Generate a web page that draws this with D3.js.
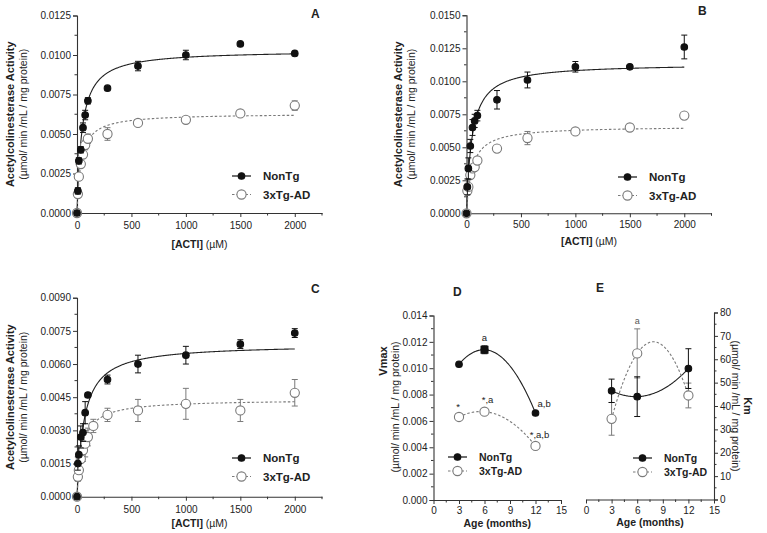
<!DOCTYPE html>
<html><head><meta charset="utf-8">
<script src="https://cdn.jsdelivr.net/npm/d3@7"></script>
<style>
body{margin:0;background:#fff;}
svg{font-family:"Liberation Sans",Arial,sans-serif;}
</style></head><body>
<svg id="c" width="767" height="533"></svg>
<script>
// ---------- DATA ----------
const seriesNames = ["NonTg", "3xTg-AD"];
const concAB = [0, 8, 17, 35, 55, 75, 100, 280, 560, 1000, 1500, 2000];
const concC_non = [0, 8, 17, 35, 55, 75, 100, 280, 560, 1000, 1500, 2000];
const concC_tg = [0, 8, 17, 35, 55, 75, 100, 150, 280, 560, 1000, 1500, 2000];

const A_non = [0, 0.0014, 0.0033, 0.0040, 0.0054, 0.0062, 0.0071, 0.0079, 0.0093, 0.0100, 0.0107, 0.0101];
const A_non_err = [0, 0.0002, 0.0002, 0.0002, 0.0003, 0.0003, 0.0002, 0, 0.0003, 0.0003, 0, 0];
const A_tg = [0, 0.0012, 0.0023, 0.0031, 0.0037, 0.0043, 0.0047, 0.0050, 0.0057, 0.0059, 0.0063, 0.0068];
const A_tg_err = [0, 0.0002, 0.0002, 0.0002, 0.0002, 0.0003, 0.0003, 0.0004, 0.0002, 0.0002, 0.0001, 0.0003];

const B_non = [0, 0.0020, 0.0034, 0.0051, 0.0065, 0.0070, 0.0074, 0.0086, 0.0101, 0.0111, 0.0111, 0.0126];
const B_non_err = [0, 0.0006, 0.0008, 0.0005, 0.0006, 0.0005, 0.0004, 0.0007, 0.0006, 0.0004, 0.0001, 0.0009];
const B_tg = [0, 0.0017, 0.0020, 0.0029, 0.0034, 0.0035, 0.0040, 0.0049, 0.0057, 0.0062, 0.0065, 0.0074];
const B_tg_err = [0, 0.0002, 0.0002, 0.0002, 0.0002, 0.0002, 0.0002, 0.0001, 0.0005, 0.0001, 0.0002, 0.0001];

const C_non = [0, 0.0015, 0.0019, 0.0027, 0.0029, 0.0038, 0.0046, 0.0053, 0.0060, 0.0064, 0.0069, 0.0074];
const C_non_err = [0, 0.0003, 0.0004, 0.0005, 0.0004, 0.0005, 0.0001, 0.0002, 0.0004, 0.0004, 0.0002, 0.0002];
const C_tg = [0, 0.0009, 0.0012, 0.0017, 0.0021, 0.0024, 0.0027, 0.0032, 0.0037, 0.0039, 0.0042, 0.0039, 0.0047];
const C_tg_err = [0, 0.0002, 0.0003, 0.0005, 0.0005, 0.0006, 0.0004, 0.0003, 0.0003, 0.0005, 0.0007, 0.0005, 0.0006];

// Michaelis-Menten fit parameters [Vmax, Km]
const fitA = [[0.0103, 45], [0.0063, 38]];
const fitB = [[0.01135, 50], [0.0066, 50]];
const fitC = [[0.0069, 65], [0.0044, 50]];

const yTicksA = [0, 0.0025, 0.005, 0.0075, 0.01, 0.0125];
const yTicksB = [0, 0.0025, 0.005, 0.0075, 0.01, 0.0125, 0.015];
const yTicksC = [0, 0.0015, 0.003, 0.0045, 0.006, 0.0075, 0.009];
const xTicksConc = [0, 500, 1000, 1500, 2000];

const ages = [3, 6, 12];
const D_non = [0.0103, 0.0114, 0.0066];
const D_non_err = [0.0001, 0.0003, 0.0001];
const D_tg = [0.0063, 0.0067, 0.0041];
const D_tg_err = [0.0001, 0.0001, 0.0001];
const D_non_ann = ["", "a", "a,b"];
const D_tg_ann = ["*", "*,a", "*,a,b"];
const yTicksD = [0, 0.002, 0.004, 0.006, 0.008, 0.010, 0.012, 0.014];

const E_non = [46.5, 44, 56];
const E_non_err = [5, 8.5, 8.5];
const E_tg = [34.5, 62.5, 44.5];
const E_tg_err = [7, 10.5, 5.3];
const E_tg_ann = ["", "a", ""];
const yTicksE = [0, 10, 20, 30, 40, 50, 60, 70, 80];
const xTicksAge = [0, 3, 6, 9, 12, 15];

// ---------- DRAW ----------
const svg = d3.select("#c");
const TXT = "#222", AX = "#333", GREY = "#7a7a7a";

function styleAxis(g){
  g.select(".domain").attr("stroke", AX).attr("stroke-width", 1.1);
  g.selectAll(".tick line").attr("stroke", AX);
  g.selectAll(".tick text").attr("fill", TXT).style("font-size", "10px");
}

function minorTicks(g, scale, vals, orient, len){
  vals.forEach(v=>{
    const p = scale(v);
    if(orient==="left") g.append("line").attr("x1",0).attr("x2",-len).attr("y1",p).attr("y2",p).attr("stroke",AX);
    if(orient==="right") g.append("line").attr("x1",0).attr("x2",len).attr("y1",p).attr("y2",p).attr("stroke",AX);
    if(orient==="bottom") g.append("line").attr("y1",0).attr("y2",len).attr("x1",p).attr("x2",p).attr("stroke",AX);
  });
}

function drawSeries(g, x, y, xs, ys, errs, filled){
  const col = filled ? "#111" : GREY;
  xs.forEach((xv,i)=>{
    const e = errs[i];
    if(e>0){
      const px = x(xv);
      g.append("line").attr("x1",px).attr("x2",px).attr("y1",y(ys[i]-e)).attr("y2",y(ys[i]+e)).attr("stroke",col).attr("stroke-width",1);
      [ys[i]-e, ys[i]+e].forEach(v=>g.append("line").attr("x1",px-3).attr("x2",px+3).attr("y1",y(v)).attr("y2",y(v)).attr("stroke",col).attr("stroke-width",1));
    }
  });
  g.selectAll(null).data(xs.map((xv,i)=>[xv,ys[i]])).join("circle")
    .attr("cx",d=>x(d[0])).attr("cy",d=>y(d[1]))
    .attr("r", filled?3.3:4.6)
    .attr("fill", filled?"#111":"#fff")
    .attr("stroke", filled?"#111":GREY).attr("stroke-width",1.1);
}

function legend(x0, y0, gap, fs){
  const g = svg.append("g");
  seriesNames.forEach((n,i)=>{
    const yy = y0 + i*gap;
    g.append("line").attr("x1",x0).attr("x2",x0+19).attr("y1",yy).attr("y2",yy)
      .attr("stroke", i===0?"#111":GREY).attr("stroke-width",1.2)
      .attr("stroke-dasharray", i===0?null:"2.5,2");
    g.append("circle").attr("cx",x0+9.5).attr("cy",yy).attr("r", i===0?3.3:4.6)
      .attr("fill", i===0?"#111":"#fff").attr("stroke", i===0?"#111":GREY).attr("stroke-width",1.1);
    g.append("text").attr("x",x0+31).attr("y",yy).attr("dy","0.36em")
      .style("font-size",fs+"px").style("font-weight","bold").attr("fill",TXT).text(n);
  });
}

function yTitle(cx, cy, bold, normal, rot, dxGap){
  const g = svg.append("g").attr("transform",`translate(${cx},${cy}) rotate(${rot})`);
  g.append("text").attr("text-anchor","middle").attr("y",0).style("font-size","11px").style("font-weight","bold").attr("fill",TXT).text(bold);
  g.append("text").attr("text-anchor","middle").attr("y",dxGap).style("font-size","10.5px").attr("fill",TXT).text(normal);
}

function concPanel(opt){
  const x = d3.scaleLinear().domain([0,2250]).range([opt.x0, opt.x1]);
  const y = d3.scaleLinear().domain([0,opt.ymax]).range([opt.y0, opt.y1]);
  const g = svg.append("g");
  const ya = g.append("g").attr("transform",`translate(${opt.x0},0)`)
    .call(d3.axisLeft(y).tickValues(opt.yTicks).tickFormat(d3.format(opt.fmt)).tickSize(4).tickPadding(2));
  styleAxis(ya);
  const step = opt.yTicks[1]-opt.yTicks[0];
  minorTicks(ya, y, opt.yTicks.slice(0,-1).map(v=>v+step/2), "left", 2.5);
  const xa = g.append("g").attr("transform",`translate(0,${opt.y0})`)
    .call(d3.axisBottom(x).tickValues(xTicksConc).tickFormat(d3.format("d")).tickSize(4).tickPadding(opt.xpad).tickSizeOuter(0));
  styleAxis(xa);
  minorTicks(xa, x, [250,750,1250,1750,2250], "bottom", 2.5);
  const xs = d3.range(0, 2001, 5);
  opt.fits.forEach((f,i)=>{
    const line = d3.line().x(d=>x(d)).y(d=>y(f[0]*d/(f[1]+d)));
    g.append("path").datum(xs).attr("d",line).attr("fill","none")
      .attr("stroke", i===0?"#222":GREY).attr("stroke-width",1.1)
      .attr("stroke-dasharray", i===0?null:"2.5,2");
  });
  drawSeries(g, x, y, opt.tgX, opt.tg, opt.tgErr, false);
  drawSeries(g, x, y, opt.nonX, opt.non, opt.nonErr, true);
  const t = g.append("text").attr("x",(x(0)+x(2250))/2).attr("y",opt.xtY).attr("text-anchor","middle").style("font-size","10.5px").attr("fill",TXT);
  t.append("tspan").style("font-weight","bold").text("[ACTI]");
  t.append("tspan").text(" (\u00B5M)");
  svg.append("text").attr("x",opt.lx).attr("y",opt.ly).style("font-size","12px").style("font-weight","bold").attr("fill",TXT).text(opt.letter);
  yTitle(opt.tx, (opt.y0+opt.y1)/2, "Acetylcolinesterase Activity", "(\u00B5mol/ min /mL / mg protein)", -90, 13);
  legend(opt.legX, opt.legY, 18.5, 11.5);
}

concPanel({x0:77, x1:322, y0:213, y1:15.5, ymax:0.0125, yTicks:yTicksA, fmt:".4f", xpad:5,
  nonX:concAB, non:A_non, nonErr:A_non_err, tgX:concAB, tg:A_tg, tgErr:A_tg_err, fits:fitA,
  xtY:248, lx:311, ly:18, letter:"A", tx:14, legX:232, legY:176});
concPanel({x0:466.5, x1:711.5, y0:213.3, y1:15.3, ymax:0.015, yTicks:yTicksB, fmt:".4f", xpad:4,
  nonX:concAB, non:B_non, nonErr:B_non_err, tgX:concAB, tg:B_tg, tgErr:B_tg_err, fits:fitB,
  xtY:245, lx:698, ly:15, letter:"B", tx:402, legX:618, legY:177});
concPanel({x0:77, x1:322, y0:496.7, y1:297.7, ymax:0.009, yTicks:yTicksC, fmt:".4f", xpad:5,
  nonX:concC_non, non:C_non, nonErr:C_non_err, tgX:concC_tg, tg:C_tg, tgErr:C_tg_err, fits:fitC,
  xtY:527, lx:311, ly:293, letter:"C", tx:14, legX:232, legY:458});

// quadratic through three points (smooth trend curves of D and E)
function quad(xs, ys){
  return t => {
    let s = 0;
    for(let i=0;i<3;i++){
      let p = ys[i];
      for(let j=0;j<3;j++) if(j!==i) p *= (t - xs[j])/(xs[i]-xs[j]);
      s += p;
    }
    return s;
  };
}

// Panel D
(function(){
  const x = d3.scaleLinear().domain([0,15]).range([433.5, 561]);
  const y = d3.scaleLinear().domain([0,0.014]).range([500, 315.5]);
  const g = svg.append("g");
  const ya = g.append("g").attr("transform","translate(433.5,0)")
    .call(d3.axisLeft(y).tickValues(yTicksD).tickFormat(d3.format(".3f")).tickSize(4).tickPadding(2));
  styleAxis(ya);
  minorTicks(ya, y, yTicksD.slice(0,-1).map(v=>v+0.001), "left", 2.5);
  const xa = g.append("g").attr("transform","translate(0,500)")
    .call(d3.axisBottom(x).tickValues(xTicksAge).tickSize(4).tickPadding(3).tickSizeOuter(0));
  styleAxis(xa);
  minorTicks(xa, x, [1.5,4.5,7.5,10.5,13.5], "bottom", 2.5);
  const ts = d3.range(3, 12.001, 0.1);
  [[D_non,false],[D_tg,true]].forEach(([vals,dash])=>{
    const f = quad(ages, vals);
    g.append("path").datum(ts).attr("d", d3.line().x(d=>x(d)).y(d=>y(f(d))))
      .attr("fill","none").attr("stroke", dash?GREY:"#222").attr("stroke-width",1.1)
      .attr("stroke-dasharray", dash?"2.5,2":null);
  });
  drawSeries(g, x, y, ages, D_tg, D_tg_err, false);
  drawSeries(g, x, y, ages, D_non, D_non_err, true);
  g.append("rect").attr("x",x(6)-4).attr("y",y(D_non[1])-4).attr("width",8).attr("height",8).attr("fill","#111");
  const ann = [
    {t:D_non_ann[1], x:x(6), y:y(D_non[1])-9, a:"middle"},
    {t:D_non_ann[2], x:x(12)+2, y:y(D_non[2])-6, a:"start"},
    {t:D_tg_ann[0], x:x(3)-1, y:y(D_tg[0])-7, a:"middle"},
    {t:D_tg_ann[1], x:x(6)+3, y:y(D_tg[1])-9, a:"middle"},
    {t:D_tg_ann[2], x:x(12)+4, y:y(D_tg[2])-8, a:"middle"}
  ];
  ann.forEach(d=>g.append("text").attr("x",d.x).attr("y",d.y).attr("text-anchor",d.a)
    .style("font-size","9.5px").attr("fill",TXT).text(d.t));
  g.append("text").attr("x",(x(0)+x(15))/2).attr("y",527).attr("text-anchor","middle")
    .style("font-size","10.5px").style("font-weight","bold").attr("fill",TXT).text("Age (months)");
  svg.append("text").attr("x",453).attr("y",296).style("font-size","12px").style("font-weight","bold").attr("fill",TXT).text("D");
  const tg = svg.append("g");
  tg.append("text").attr("transform","translate(387,361) rotate(-90)").attr("text-anchor","middle")
    .style("font-size","11px").style("font-weight","bold").attr("fill",TXT).text("Vmax");
  tg.append("text").attr("transform","translate(399,407) rotate(-90)").attr("text-anchor","middle")
    .style("font-size","10.5px").attr("fill",TXT).text("(\u00B5mol/ min /mL / mg protein)");
  legend(448, 457, 14, 10.5);
})();

// Panel E
(function(){
  const x = d3.scaleLinear().domain([0,15]).range([586, 714]);
  const y = d3.scaleLinear().domain([0,80]).range([499.5, 312.5]);
  const g = svg.append("g");
  const ya = g.append("g").attr("transform","translate(714,0)")
    .call(d3.axisRight(y).tickValues(yTicksE).tickSize(4).tickPadding(2));
  styleAxis(ya);
  minorTicks(ya, y, yTicksE.slice(0,-1).map(v=>v+5), "right", 2.5);
  const xa = g.append("g").attr("transform","translate(0,499.5)")
    .call(d3.axisBottom(x).tickValues(xTicksAge).tickSize(4).tickPadding(3).tickSizeOuter(0));
  styleAxis(xa);
  minorTicks(xa, x, [1.5,4.5,7.5,10.5,13.5], "bottom", 2.5);
  const ts = d3.range(3, 12.001, 0.1);
  [[E_non,false],[E_tg,true]].forEach(([vals,dash])=>{
    const f = quad(ages, vals);
    g.append("path").datum(ts).attr("d", d3.line().x(d=>x(d)).y(d=>y(f(d))))
      .attr("fill","none").attr("stroke", dash?GREY:"#222").attr("stroke-width",1.1)
      .attr("stroke-dasharray", dash?"2.5,2":null);
  });
  drawSeries(g, x, y, ages, E_tg, E_tg_err, false);
  drawSeries(g, x, y, ages, E_non, E_non_err, true);
  g.append("text").attr("x",x(6)).attr("y",y(E_tg[1]+E_tg_err[1])-5).attr("text-anchor","middle")
    .style("font-size","9px").attr("fill","#555").text(E_tg_ann[1]);
  g.append("text").attr("x",(x(0)+x(15))/2).attr("y",526).attr("text-anchor","middle")
    .style("font-size","10.5px").style("font-weight","bold").attr("fill",TXT).text("Age (months)");
  svg.append("text").attr("x",596).attr("y",292).style("font-size","12px").style("font-weight","bold").attr("fill",TXT).text("E");
  const tg = svg.append("g").attr("transform","translate(744,406) rotate(90)");
  tg.append("text").attr("text-anchor","middle").attr("y",0).style("font-size","11px").style("font-weight","bold").attr("fill",TXT).text("Km");
  tg.append("text").attr("text-anchor","middle").attr("y",12).style("font-size","10.5px").attr("fill",TXT).text("(\u00B5mol/ min /mL / mg protein)");
  legend(633, 458, 14, 10.5);
})();
</script>
</body></html>
